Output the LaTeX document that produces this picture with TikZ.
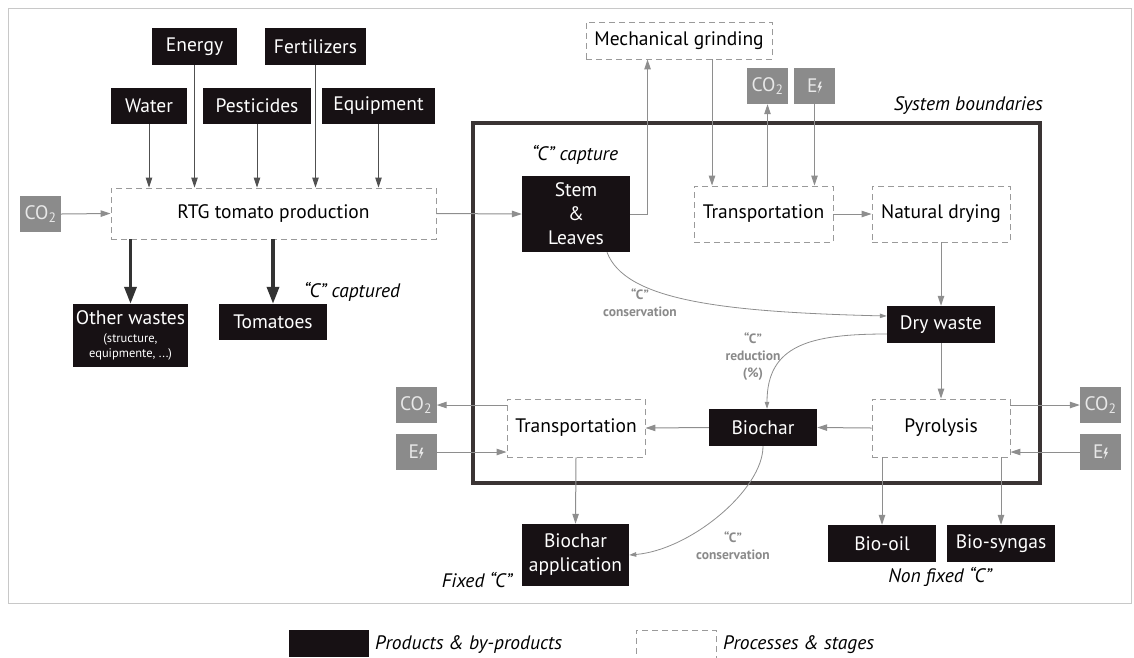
\documentclass[tikz,border=0pt]{standalone}
\usepackage{fontspec}
\setmainfont{PT Sans}
\usetikzlibrary{arrows.meta}

\definecolor{prodblack}{HTML}{171114}
\definecolor{emisgray}{HTML}{8B8B8B}
\definecolor{emistext}{HTML}{E8E8E8}
\definecolor{linegray}{HTML}{8E8E8E}
\definecolor{darkline}{HTML}{505050}
\definecolor{heavy}{HTML}{333333}
\definecolor{dashgray}{HTML}{9A9A9A}
\definecolor{boundcol}{HTML}{3A3434}
\definecolor{framegray}{HTML}{C8C8C8}
\definecolor{labelgray}{HTML}{8A8A8A}

\newcommand\fsz[2]{\fontsize{#1}{#2}\selectfont}
\newcommand\bolt{\tikz[x=1pt,y=1pt,baseline=0pt]\fill[emistext] (2.8,11) -- (0.3,5) -- (2.4,5) -- (1,-0.5) -- (4.8,6.6) -- (2.6,6.6) -- (4.4,11) -- cycle;}

\tikzset{
  prod/.style={fill=prodblack, text=white, inner sep=0pt, align=center, font=\fsz{19.5}{24}},
  proc/.style={draw=dashgray, fill=white, dash pattern=on 6pt off 4pt, line width=0.9pt,
    inner sep=0pt, align=center, font=\fsz{19.5}{24}},
  emis/.style={fill=emisgray, text=emistext, inner sep=0pt, minimum width=41pt,
    minimum height=36pt, font=\fsz{19.5}{24}},
  wh/.style 2 args={minimum width=#1pt, minimum height=#2pt},
  flow/.style={draw=linegray, line width=1pt, -{Triangle[length=10pt,width=6.5pt]}},
  feed/.style={draw=darkline, line width=1pt, -{Triangle[length=10pt,width=6.5pt]}},
  bulk/.style={draw=heavy, line width=3.5pt, -{Triangle[length=17pt,width=12pt]}},
  cflow/.style={draw=linegray, line width=0.8pt, -{Triangle[length=7pt,width=4.5pt]}},
  note/.style={font=\fsz{19.5}{22}\itshape, inner sep=0pt},
  cnote/.style={text=labelgray, font=\fsz{13.5}{17}\bfseries, align=center, inner sep=0pt}
}

\begin{document}
\begin{tikzpicture}[x=1pt,y=-1pt]
  \useasboundingbox (0,0) rectangle (1134,657);
  \draw[framegray, line width=1pt] (8,8) rectangle (1131,603);

  % system boundary
  \draw[boundcol, line width=3.5pt] (473,123) rectangle (1040,483);
  \node[note, anchor=east] (sysb) at (1043,106) {System boundaries};

  % inputs
  \node[prod, wh={85}{37}] (energy) at (194.5,46.5) {Energy};
  \node[prod, wh={101}{37}] (fert) at (315.5,46.5) {Fertilizers};
  \node[prod, wh={76}{36}] (water) at (149,106) {Water};
  \node[prod, wh={108}{36}] (pest) at (257,106) {Pesticides};
  \node[prod, wh={113}{36}] (equip) at (378.5,106) {Equipment};
  \node[proc, wh={325}{51}] (rtg) at (273.5,213.5) {RTG tomato production};
  \node[emis] (co2a) at (40.5,214) {CO\textsubscript{2}};
  \node[prod, wh={115}{63}] (waste) at (130.5,335.5)
    {Other wastes\\[-6pt]{\fsz{12.5}{15}(structure,}\\[-9pt]{\fsz{12.5}{15}equipmente, ...)}};
  \node[prod, wh={108}{36}] (tomato) at (273,322) {Tomatoes};
  \node[note] (captd) at (352,292) {“C” captured};

  % stem and leaves chain
  \node[note] (capt) at (575,155) {“C” capture};
  \node[prod, wh={108}{76}] (stem) at (576,214) {Stem\\\&\\Leaves};
  \node[proc, wh={186}{37}] (grind) at (679,40.5) {Mechanical grinding};
  \node[emis] (co2b) at (767.5,86) {CO\textsubscript{2}};
  \node[emis] (eb) at (814.5,86) {E\bolt};
  \node[proc, wh={139}{56}] (tra1) at (763.5,214) {Transportation};
  \node[proc, wh={138}{56}] (dry) at (941,214) {Natural drying};
  \node[prod, wh={108}{37}] (dwaste) at (941,324.5) {Dry waste};
  \node[proc, wh={138}{58}] (pyro) at (941,428) {Pyrolysis};
  \node[prod, wh={108}{37}] (bchar) at (763,427.5) {Biochar};
  \node[proc, wh={138}{58}] (tra2) at (576,428) {Transportation};
  \node[emis] (co2c) at (416,405) {CO\textsubscript{2}};
  \node[emis] (ec) at (416,452) {E\bolt};
  \node[emis] (co2d) at (1100.5,405) {CO\textsubscript{2}};
  \node[emis] (ed) at (1100.5,452) {E\bolt};
  \node[prod, wh={107}{62}] (bapp) at (575.5,555) {Biochar\\application};
  \node[prod, wh={108}{37}] (boil) at (882,543.5) {Bio-oil};
  \node[prod, wh={108}{37}] (bsyn) at (1001,543.5) {Bio-syngas};
  \node[note] (fixed) at (477,580) {Fixed “C”};
  \node[note] (nonfix) at (940,577) {Non fixed “C”};

  % carbon labels
  \node[cnote] (cons1) at (640,303) {“C”\\conservation};
  \node[cnote] (redu) at (753,357) {“C”\\reduction\\(\%)};
  \node[cnote] (cons2) at (733,546) {“C”\\conservation};

  % connectors
  \foreach \src in {water,energy,pest,fert,equip}
    \draw[feed] (\src.south) -- (\src.south |- rtg.north);
  \draw[bulk] (waste.north |- rtg.south) -- (waste.north);
  \draw[bulk] (tomato.north |- rtg.south) -- (tomato.north);
  \draw[flow] (co2a.east) -- (rtg.west);

  \foreach \from/\to in {rtg.east/stem.west, tra1.east/dry.west, dry.south/dwaste.north,
      dwaste.south/pyro.north, pyro.west/bchar.east, bchar.west/tra2.east, tra2.south/bapp.north}
    \draw[flow] (\from) -- (\to);
  \draw[flow] (stem.east) -| ([xshift=62pt]grind.south west);
  \draw[flow] ([xshift=33pt]grind.south) -- ([xshift=33pt]grind.south |- tra1.north);
  \draw[flow] (co2b.south |- tra1.north) -- (co2b.south);
  \draw[flow] (eb.south) -- (eb.south |- tra1.north);
  \draw[flow] (tra2.west |- co2c) -- (co2c.east);
  \draw[flow] (ec.east) -- (ec -| tra2.west);
  \draw[flow] (pyro.east |- co2d) -- (co2d.west);
  \draw[flow] (ed.west) -- (ed -| pyro.east);
  \draw[flow] (boil.north |- pyro.south) -- (boil.north);
  \draw[flow] (bsyn.north |- pyro.south) -- (bsyn.north);

  \draw[cflow] ([xshift=31pt]stem.south) .. controls (625,300) and (720,312) .. ([yshift=8.5pt]dwaste.west);
  \draw[cflow] ([yshift=-9.5pt]dwaste.west) .. controls (810,334) and (767,345) .. ([xshift=4pt]bchar.north);
  \draw[cflow] (bchar.south) .. controls (763,490) and (690,550) .. (bapp.east);

  % legend
  \node[prod, wh={80}{27}] (lgprod) at (329,643.5) {};
  \node[note, anchor=west] (lgprodt) at (375,645) {Products \& by-products};
  \node[proc, wh={80}{32}] (lgproc) at (676,646) {};
  \node[note, anchor=west] (lgproct) at (723,645) {Processes \& stages};
\end{tikzpicture}
\end{document}
